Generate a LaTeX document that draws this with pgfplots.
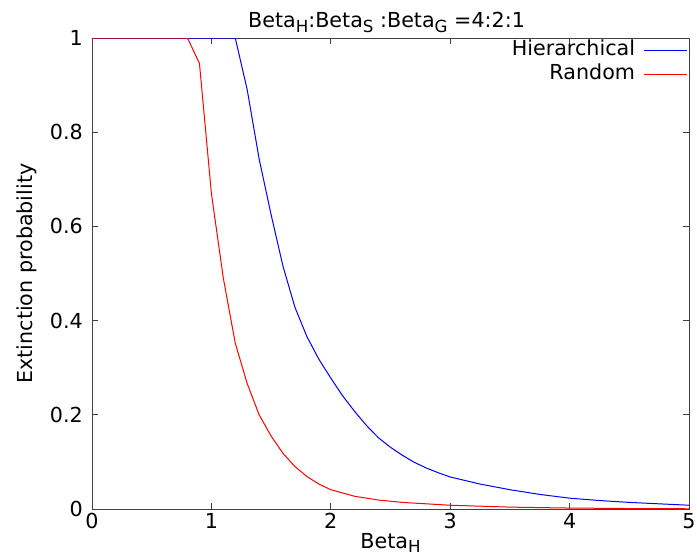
\documentclass[border=0pt]{standalone}
\usepackage{fontspec}
\setmainfont{DejaVu Sans}
\usepackage{pgfplots}
\pgfplotsset{compat=1.18}

\newcommand{\sub}[1]{\raisebox{-0.42ex}{\fontsize{12.5}{14}\selectfont #1}}
\newcommand{\txt}{\fontsize{15.5}{18}\selectfont}

\begin{document}
\txt
\begin{tikzpicture}
\begin{axis}[
  scale only axis,
  width=447.75pt, height=353.25pt,
  xmin=0, xmax=5, ymin=0, ymax=1,
  xtick={0,1,2,3,4,5},
  ytick={0,0.2,0.4,0.6,0.8,1},
  tick align=inside,
  major tick length=4.5pt,
  tick style={black!75, line width=0.6pt},
  axis line style={black!75, line width=0.6pt},
  tick label style={font=\txt},
  /pgf/number format/assume math mode=true,
  xticklabel style={yshift=2pt},
  yticklabel style={xshift=-1.5pt},
  legend style={draw=none, fill=none, at={(1,1)}, anchor=north east,
    xshift=-0.8pt, yshift=-1.5pt, inner sep=0pt, font=\txt,
    nodes={inner sep=0pt, text height=11.5pt, text depth=3.5pt},
    row sep=3pt, column sep=6.75pt},
  legend cell align=right,
  legend plot pos=right,
  legend image code/.code={\draw[#1] plot coordinates {(0pt,0pt) (16pt,0pt) (32pt,0pt)};},
]
\addplot[color=blue, line width=0.75pt] coordinates {
(0,1) (1.2,1) (1.3,0.89) (1.4,0.743) (1.5,0.625) (1.6,0.515) (1.7,0.428)
(1.8,0.366) (1.9,0.318) (2.0,0.278) (2.1,0.24) (2.2,0.207) (2.3,0.177)
(2.4,0.151) (2.5,0.131) (2.6,0.114) (2.7,0.099) (2.8,0.087) (2.9,0.077)
(3.0,0.068) (3.25,0.053) (3.5,0.041) (3.75,0.031) (4.0,0.023) (4.25,0.018)
(4.5,0.014) (4.75,0.011) (5.0,0.008)};
\addlegendentry{Hierarchical}
\addplot[color=red, line width=0.75pt] coordinates {
(0,1) (0.8,1) (0.9,0.946) (1.0,0.67) (1.1,0.49) (1.2,0.352) (1.3,0.266)
(1.4,0.2) (1.5,0.155) (1.6,0.118) (1.7,0.09) (1.8,0.069) (1.9,0.053)
(2.0,0.041) (2.2,0.027) (2.4,0.019) (2.6,0.014) (2.8,0.011) (3.0,0.008)
(3.5,0.004) (4.0,0.002) (4.5,0.001) (5.0,0.0005)};
\addlegendentry{Random}
\end{axis}
\node[anchor=base] at (220.9pt,360.75pt) {Beta\sub{H}:Beta\sub{S} :Beta\sub{G} =4:2:1};
\node[anchor=base] at (223.9pt,-29.25pt) {Beta\sub{H}};
\node[rotate=90, anchor=base] at (-44.25pt,176.6pt) {Extinction probability};
\pgfresetboundingbox
\useasboundingbox (-69pt,-36.75pt) rectangle (453.75pt,381.75pt);
\end{tikzpicture}
\end{document}
